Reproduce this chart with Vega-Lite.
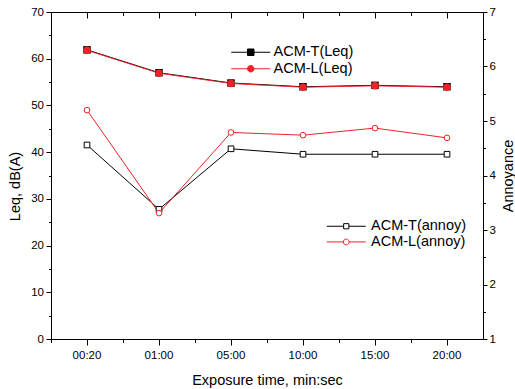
{
  "$schema": "https://vega.github.io/schema/vega-lite/v6.json",
  "width": 432,
  "height": 327,
  "autosize": "none",
  "padding": {"left": 51, "top": 12, "right": 32, "bottom": 50},
  "background": "white",
  "config": {
    "view": {"stroke": null},
    "font": "Liberation Sans",
    "axis": {"grid": false, "domainColor": "black", "tickColor": "black", "labelColor": "black", "titleColor": "black", "titleFontWeight": "normal", "labelFont": "Liberation Sans", "titleFont": "Liberation Sans", "domainWidth": 1, "tickWidth": 1},
    "legend": {"orient": "none", "title": null, "labelFontSize": 14.5, "labelColor": "black", "labelFont": "Liberation Sans", "symbolSize": 169, "symbolStrokeWidth": 1, "symbolOpacity": 1, "padding": 0}
  },
  "data": {
    "values": [
      {"time": "00:20", "series": "ACM-T(Leq)", "metric": "Leq", "value": 61.9},
      {"time": "01:00", "series": "ACM-T(Leq)", "metric": "Leq", "value": 57.0},
      {"time": "05:00", "series": "ACM-T(Leq)", "metric": "Leq", "value": 54.8},
      {"time": "10:00", "series": "ACM-T(Leq)", "metric": "Leq", "value": 54.0},
      {"time": "15:00", "series": "ACM-T(Leq)", "metric": "Leq", "value": 54.3},
      {"time": "20:00", "series": "ACM-T(Leq)", "metric": "Leq", "value": 54.0},
      {"time": "00:20", "series": "ACM-L(Leq)", "metric": "Leq", "value": 61.8},
      {"time": "01:00", "series": "ACM-L(Leq)", "metric": "Leq", "value": 56.9},
      {"time": "05:00", "series": "ACM-L(Leq)", "metric": "Leq", "value": 54.7},
      {"time": "10:00", "series": "ACM-L(Leq)", "metric": "Leq", "value": 53.9},
      {"time": "15:00", "series": "ACM-L(Leq)", "metric": "Leq", "value": 54.2},
      {"time": "20:00", "series": "ACM-L(Leq)", "metric": "Leq", "value": 53.9},
      {"time": "00:20", "series": "ACM-T(annoy)", "metric": "annoy", "value": 4.56},
      {"time": "01:00", "series": "ACM-T(annoy)", "metric": "annoy", "value": 3.38},
      {"time": "05:00", "series": "ACM-T(annoy)", "metric": "annoy", "value": 4.49},
      {"time": "10:00", "series": "ACM-T(annoy)", "metric": "annoy", "value": 4.39},
      {"time": "15:00", "series": "ACM-T(annoy)", "metric": "annoy", "value": 4.39},
      {"time": "20:00", "series": "ACM-T(annoy)", "metric": "annoy", "value": 4.39},
      {"time": "00:20", "series": "ACM-L(annoy)", "metric": "annoy", "value": 5.20},
      {"time": "01:00", "series": "ACM-L(annoy)", "metric": "annoy", "value": 3.31},
      {"time": "05:00", "series": "ACM-L(annoy)", "metric": "annoy", "value": 4.79},
      {"time": "10:00", "series": "ACM-L(annoy)", "metric": "annoy", "value": 4.74},
      {"time": "15:00", "series": "ACM-L(annoy)", "metric": "annoy", "value": 4.87},
      {"time": "20:00", "series": "ACM-L(annoy)", "metric": "annoy", "value": 4.69}
    ]
  },
  "layer": [
    {
      "transform": [{"filter": "datum.metric == 'Leq'"}],
      "encoding": {
        "x": {"field": "time", "type": "ordinal", "sort": null,
          "scale": {"type": "band", "paddingInner": 0, "paddingOuter": 0},
          "axis": {"orient": "bottom", "title": "Exposure time, min:sec", "labelAngle": 0, "tickSize": 6, "labelPadding": 4, "labelFontSize": 11.5, "titleFontSize": 14.5, "titleY": 45.5, "titleBaseline": "alphabetic", "bandPosition": 0.5}},
        "y": {"field": "value", "type": "quantitative",
          "scale": {"domain": [0, 70], "nice": false, "zero": false},
          "axis": {"orient": "left", "title": "Leq, dB(A)", "values": [0, 10, 20, 30, 40, 50, 60, 70], "tickSize": 5, "labelPadding": 2.5, "labelFontSize": 11.5, "titleFontSize": 14.5, "titleX": -36, "titleY": 174, "titleBaseline": "middle", "titleAngle": -90}},
        "color": {"field": "series", "type": "nominal",
          "scale": {"domain": ["ACM-T(Leq)", "ACM-L(Leq)"], "range": ["#000000", "#ee2228"]},
          "legend": null}
      },
      "layer": [
        {"mark": {"type": "line", "strokeWidth": 1}},
        {"mark": {"type": "point", "filled": true, "opacity": 1},
          "encoding": {"shape": {"field": "series", "type": "nominal", "scale": {"domain": ["ACM-T(Leq)", "ACM-L(Leq)"], "range": ["square", "circle"]}, "legend": null},
            "size": {"value": 56}}}
      ]
    },
    {
      "transform": [{"filter": "datum.metric == 'annoy'"}],
      "encoding": {
        "x": {"field": "time", "type": "ordinal", "sort": null,
          "axis": {"orient": "top", "title": null, "labels": false, "tickSize": -6, "bandPosition": 0.5}},
        "y": {"field": "value", "type": "quantitative",
          "scale": {"domain": [1, 7], "nice": false, "zero": false},
          "axis": {"orient": "right", "title": "Annoyance", "values": [1, 2, 3, 4, 5, 6, 7], "tickSize": 4, "labelPadding": 2, "labelFontSize": 11.5, "titleFontSize": 14.5, "titleX": 25.7, "titleY": 163.5, "titleBaseline": "middle", "titleAngle": -90}},
        "color": {"field": "series", "type": "nominal",
          "scale": {"domain": ["ACM-T(annoy)", "ACM-L(annoy)"], "range": ["#000000", "#ee2228"]},
          "legend": null}
      },
      "layer": [
        {"mark": {"type": "line", "strokeWidth": 1}},
        {"mark": {"type": "point", "filled": false, "fill": "white", "strokeWidth": 1, "opacity": 1},
          "encoding": {"shape": {"field": "series", "type": "nominal", "scale": {"domain": ["ACM-T(annoy)", "ACM-L(annoy)"], "range": ["square", "circle"]}, "legend": null},
            "size": {"value": 32}}}
      ]
    },
    {
      "transform": [{"filter": "datum.metric == 'Leq'"}],
      "mark": {"type": "point", "opacity": 0, "filled": true},
      "encoding": {
        "x": {"field": "time", "type": "ordinal", "sort": null,
          "axis": {"orient": "bottom", "title": null, "labels": false, "domain": false, "tickSize": 3.5, "bandPosition": 0}},
        "y": {"field": "value", "type": "quantitative",
          "scale": {"domain": [0, 70], "nice": false, "zero": false},
          "axis": {"orient": "left", "title": null, "labels": false, "domain": false, "values": [5, 15, 25, 35, 45, 55, 65], "tickSize": 2.5}},
        "fill": {"field": "series", "type": "nominal",
          "scale": {"domain": ["ACM-T(Leq)", "ACM-L(Leq)"], "range": ["#000000", "#ee2228"]},
          "legend": {"legendX": 192.5, "legendY": 33, "labelOffset": 15.5, "rowPadding": 1.5}},
        "stroke": {"field": "series", "type": "nominal",
          "scale": {"domain": ["ACM-T(Leq)", "ACM-L(Leq)"], "range": ["#000000", "#ee2228"]},
          "legend": {"legendX": 192.5, "legendY": 33, "labelOffset": 15.5, "rowPadding": 1.5}},
        "shape": {"field": "series", "type": "nominal",
          "scale": {"domain": ["ACM-T(Leq)", "ACM-L(Leq)"], "range": ["M-3,0H-0.5M-0.5,-0.5H0.5V0.5H-0.5ZM0.5,0H3", "M-3,0H-0.5M0.5,0A0.5,0.5 0 1,0 -0.5,0A0.5,0.5 0 1,0 0.5,0M0.5,0H3"]},
          "legend": {"legendX": 192.5, "legendY": 33, "labelOffset": 15.5, "rowPadding": 1.5}}
      }
    },
    {
      "transform": [{"filter": "datum.metric == 'annoy'"}],
      "mark": {"type": "point", "opacity": 0, "filled": false, "fill": "white"},
      "encoding": {
        "x": {"field": "time", "type": "ordinal", "sort": null,
          "axis": {"orient": "top", "title": null, "labels": false, "domain": false, "tickSize": -3.5, "bandPosition": 0}},
        "y": {"field": "value", "type": "quantitative",
          "scale": {"domain": [1, 7], "nice": false, "zero": false},
          "axis": {"orient": "right", "title": null, "labels": false, "domain": false, "values": [1.5, 2.5, 3.5, 4.5, 5.5, 6.5], "tickSize": 2.5}},
        "stroke": {"field": "series", "type": "nominal",
          "scale": {"domain": ["ACM-T(annoy)", "ACM-L(annoy)"], "range": ["#000000", "#ee2228"]},
          "legend": {"legendX": 288, "legendY": 207, "labelOffset": 17.5, "rowPadding": 0.7}},
        "shape": {"field": "series", "type": "nominal",
          "scale": {"domain": ["ACM-T(annoy)", "ACM-L(annoy)"], "range": ["M-3,0H-0.4M-0.4,-0.4H0.4V0.4H-0.4ZM0.4,0H3", "M-3,0H-0.45M0.45,0A0.45,0.45 0 1,0 -0.45,0A0.45,0.45 0 1,0 0.45,0M0.45,0H3"]},
          "legend": {"legendX": 288, "legendY": 207, "labelOffset": 17.5, "rowPadding": 0.7}}
      }
    }
  ],
  "resolve": {
    "scale": {"y": "independent", "color": "independent", "shape": "independent", "fill": "independent", "stroke": "independent"},
    "axis": {"x": "independent", "y": "independent"},
    "legend": {"color": "independent", "shape": "independent", "fill": "independent", "stroke": "independent"}
  }
}
